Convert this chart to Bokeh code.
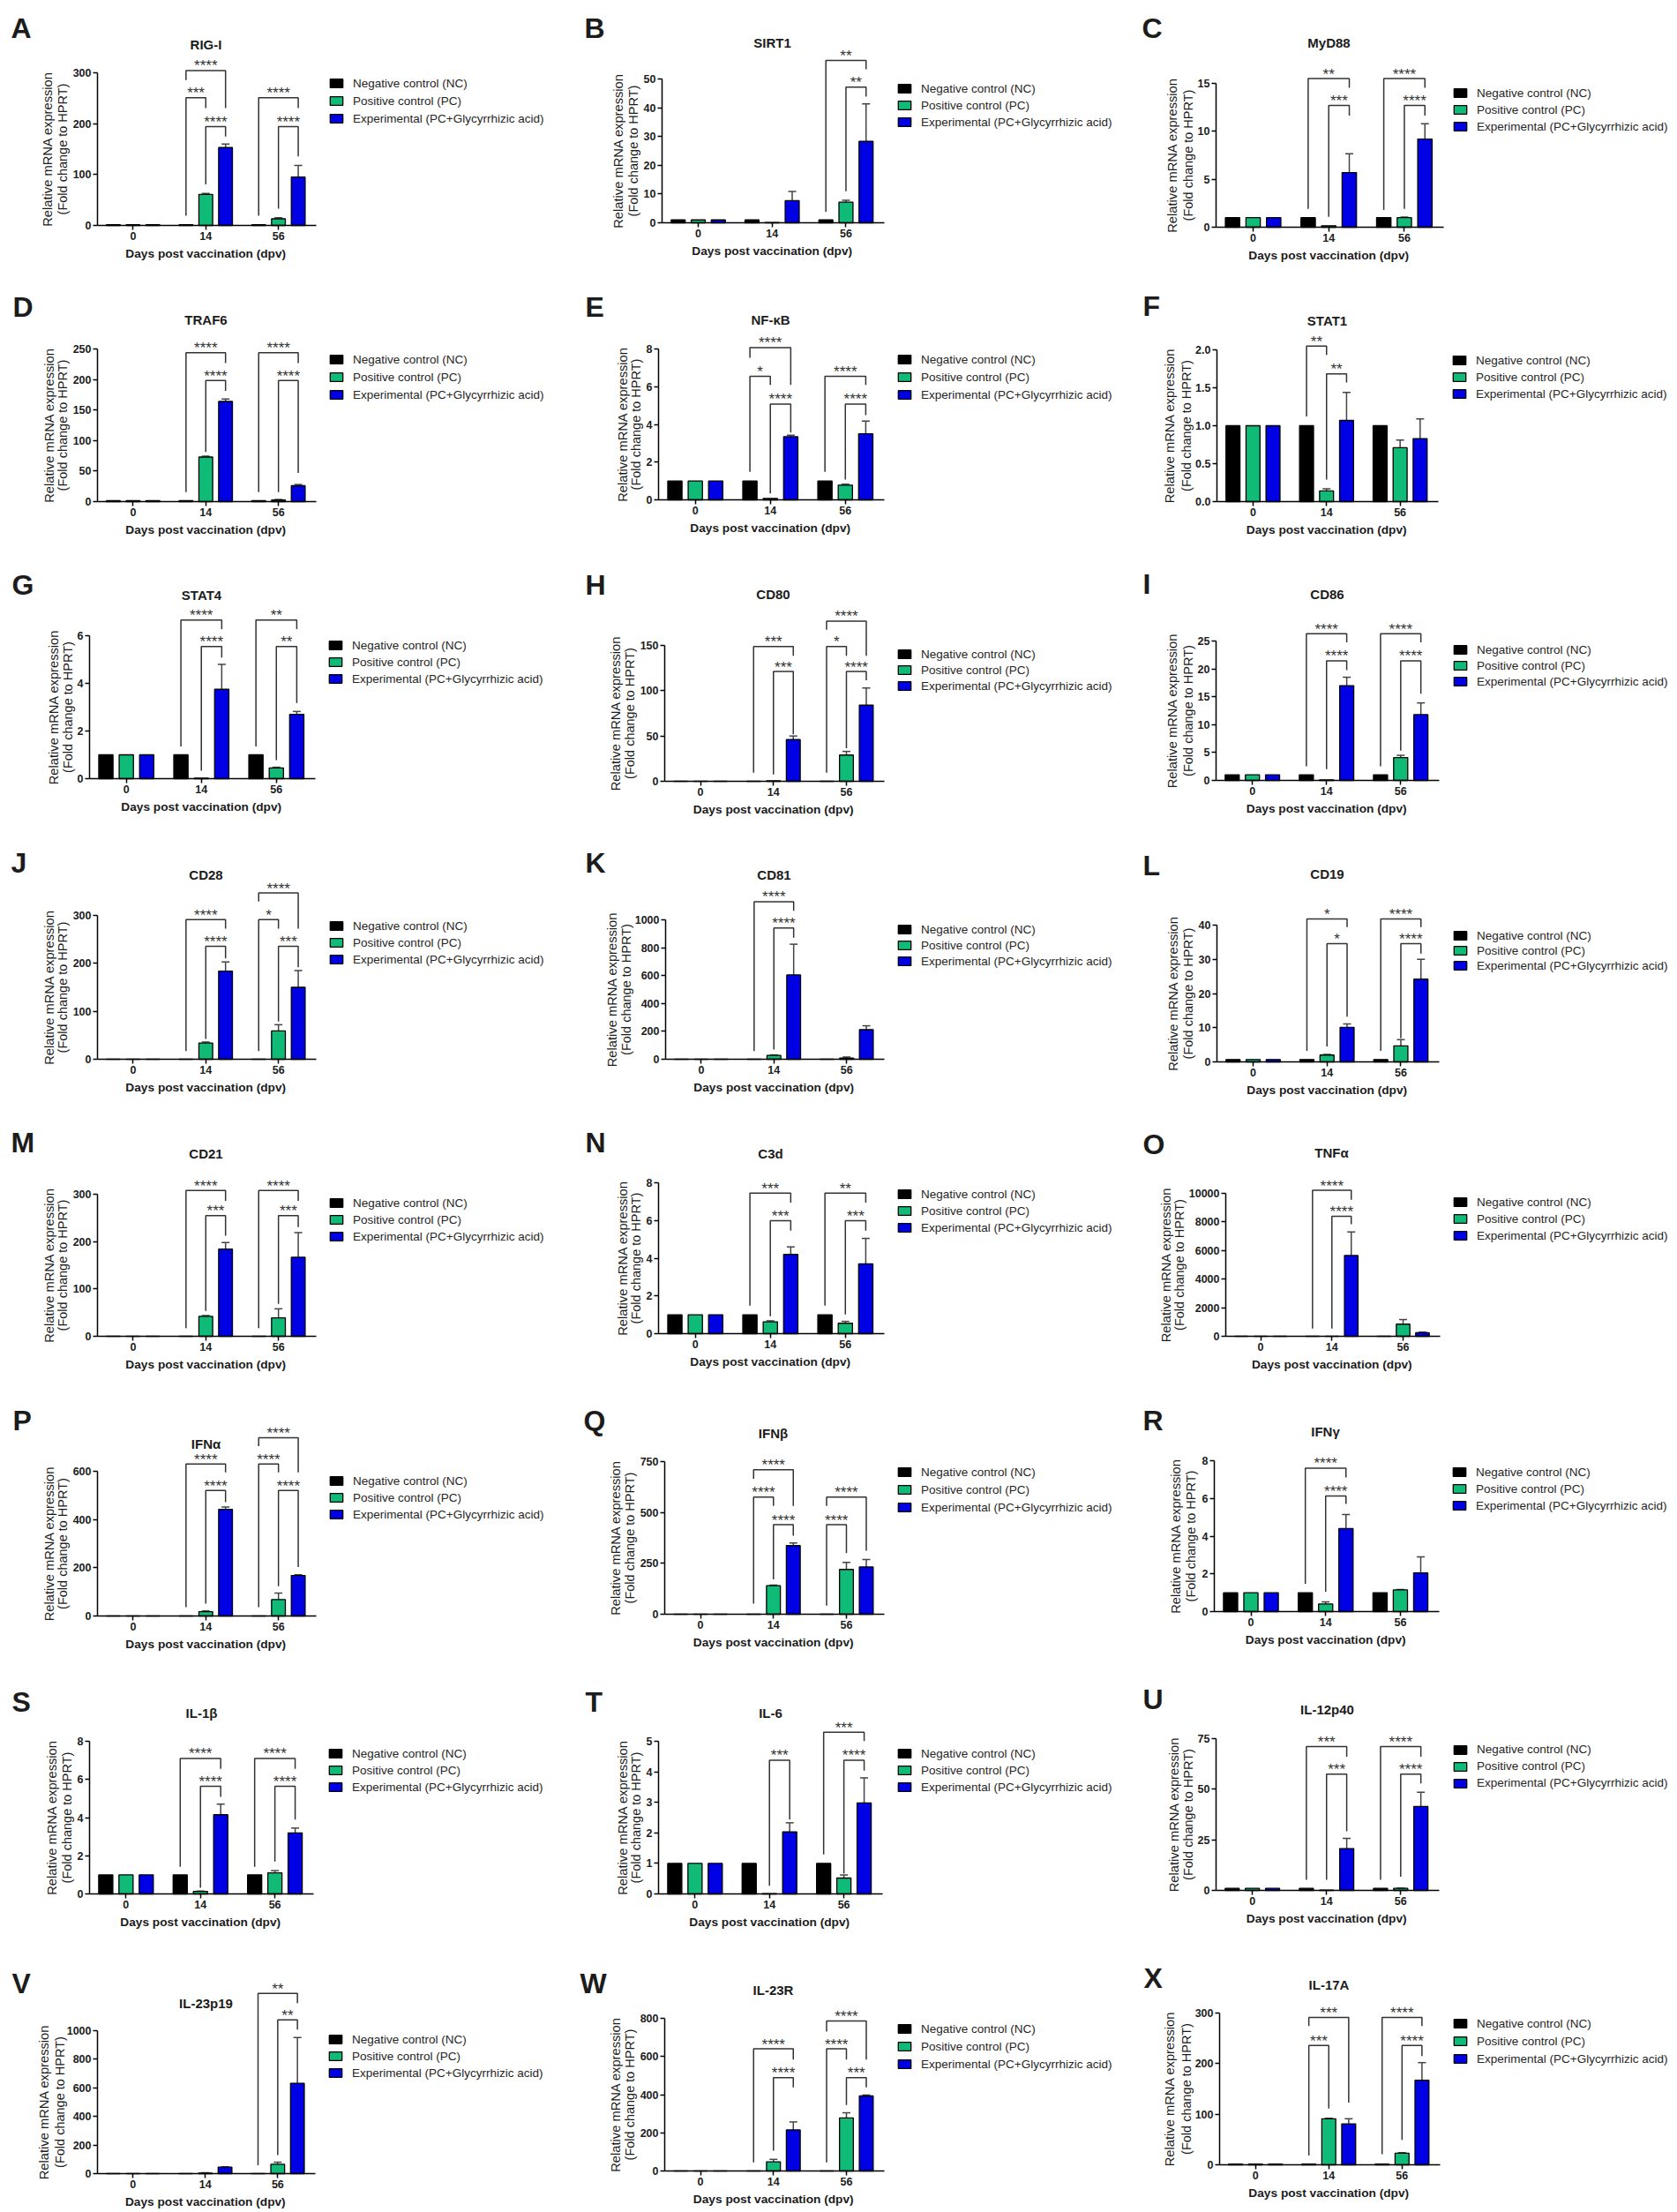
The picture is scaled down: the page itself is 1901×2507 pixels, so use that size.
from bokeh.plotting import figure
from bokeh.layouts import column, row
from bokeh.embed import file_html
from bokeh.resources import INLINE
from bokeh.core.properties import value
from bokeh.models import (ColumnDataSource, FixedTicker, Label, Legend, LegendItem, Range1d,
                          Whisker, TeeHead, NumeralTickFormatter)
import math

# ---------------- data ----------------
GENES = ["RIG-I", "SIRT1", "MyD88", "TRAF6", "NF-κB", "STAT1", "STAT4", "CD80", "CD86", "CD28", "CD81", "CD19",
         "CD21", "C3d", "TNFα", "IFNα", "IFNβ", "IFNγ", "IL-1β", "IL-6", "IL-12p40", "IL-23p19", "IL-23R", "IL-17A"]
PANEL_LETTERS = list("ABCDEFGHIJKLMNOPQRSTUVWX")
DAYS = ["0", "14", "56"]
SERIES_NAMES = ["Negative control (NC)", "Positive control (PC)", "Experimental (PC+Glycyrrhizic acid)"]
X_TITLE = "Days post vaccination (dpv)"
Y_TITLE_1 = "Relative mRNA expression"
Y_TITLE_2 = "(Fold change to HPRT)"

Y_TICKS = [[0,100,200,300],[0,10,20,30,40,50],[0,5,10,15],[0,50,100,150,200,250],[0,2,4,6,8],[0,.5,1,1.5,2],
           [0,2,4,6],[0,50,100,150],[0,5,10,15,20,25],[0,100,200,300],[0,200,400,600,800,1000],[0,10,20,30,40],
           [0,100,200,300],[0,2,4,6,8],[0,2000,4000,6000,8000,10000],[0,200,400,600],[0,250,500,750],[0,2,4,6,8],
           [0,2,4,6,8],[0,1,2,3,4,5],[0,25,50,75],[0,200,400,600,800,1000],[0,200,400,600,800],[0,100,200,300]]

NC = [[1.5,1.5,1.5],[1,1,1],[1,1,1],[1.5,1.5,1.5],[1,1,1],[1,1,1],[1,1,1],[0,0,0],[1,1,1],[0,0,0],[0,0,0],[.7,.7,.7],
      [0,0,0],[1,1,1],[0,0,0],[0,0,0],[0,0,0],[1,1,1],[1,1,1],[1,1,1],[1,1,1],[0,0,0],[0,0,0],[1.5,1.5,1.5]]
PC = [[1.5,61,13],[1,.1,7.2],[1,.15,1],[1.5,73,2.5],[1,.07,.78],[1,.14,.71],[1,.02,.45],[0,.5,29],[1,.1,4.1],
      [0,34,59],[0,28,8],[.7,2,4.7],[0,42,39],[1,.63,.55],[0,0,850],[0,18,68],[0,140,220],[1,.4,1.15],
      [1,.13,1.1],[1,.01,.52],[1,.1,1],[0,3,65],[0,48,278],[1.5,91,23]]
EXP = [[1.5,153,95],[1,7.7,28.3],[1,5.7,9.2],[1.5,164,26],[1,3.35,3.5],[1,1.07,.83],[1,3.75,2.7],[0,46,84],[1,17,11.8],
       [0,184,150],[0,605,212],[.7,10.1,24.2],[0,184,167],[1,4.2,3.7],[0,5650,250],[0,442,168],[0,337,232],[1,4.4,2.05],
       [1,4.15,3.2],[1,2.03,2.98],[1,20.7,41.5],[0,45,632],[0,215,393],[1.5,81,167]]
PC_ERR = [[0,2,2],[0,0,.6],[0,0,.05],[0,1.5,1],[0,0,.05],[0,.03,.1],[0,0,.03],[0,0,4],[0,0,.4],
          [0,2,13],[0,3,8],[0,.2,1.8],[0,2,19],[0,.05,.1],[0,0,320],[0,3,27],[0,3,35],[0,.12,.02],
          [0,.02,.12],[0,0,.1],[0,0,.1],[0,3,15],[0,13,27],[0,1,1]]
EXP_ERR = [[0,7,23],[0,3.2,13],[0,1.95,1.6],[0,4,2],[0,.08,.68],[0,.37,.26],[0,1.05,.12],[0,4,19],[0,1.5,2.1],
           [0,19,35],[0,220,28],[0,1,5.8],[0,14,52],[0,.4,1.35],[0,1650,40],[0,10,3],[0,13,37],[0,.75,.85],
           [0,.55,.25],[0,.3,.82],[0,5,7],[0,3,320],[0,42,5],[0,10,35]]

# significance brackets: (day index, series a, series b, top, foot a, foot b, stars) heights are fractions of the y axis length
BRACKETS = [
 [(1,0,2,1.015,.952,.769,"****"),(1,0,1,.837,.063,.769,"***"),(1,1,2,.648,.269,.583,"****"),(2,0,2,.837,.063,.769,"****"),(2,1,2,.648,.11,.452,"****")],
 [(2,0,2,1.129,.076,1.067,"**"),(2,1,2,.943,.219,.877,"**")],
 [(1,0,2,1.033,.127,.969,"**"),(1,1,2,.846,.072,.776,"***"),(2,0,2,1.033,.119,.969,"****"),(2,1,2,.846,.127,.776,"****")],
 [(1,0,2,.975,.062,.908,"****"),(1,1,2,.794,.325,.725,"****"),(2,0,2,.975,.062,.908,"****"),(2,1,2,.794,.062,.188,"****")],
 [(1,0,2,1.009,.942,.762,"****"),(1,0,1,.818,.185,.762,"*"),(1,1,2,.635,.042,.446,"****"),(2,0,2,.818,.185,.762,"****"),(2,1,2,.635,.134,.561,"****")],
 [(1,0,1,1.024,.561,.967,"**"),(1,1,2,.841,.146,.785,"**")],
 [(1,0,2,1.109,.226,1.046,"****"),(1,1,2,.925,.056,.847,"****"),(2,0,2,1.109,.226,1.046,"**"),(2,1,2,.925,.129,.53,"**")],
 [(1,0,2,.992,.064,.923,"***"),(1,1,2,.808,.051,.346,"***"),(2,0,2,1.179,1.115,.923,"****"),(2,0,1,.992,.064,.923,"*"),(2,1,2,.808,.244,.744,"****")],
 [(1,0,2,1.053,.102,.991,"****"),(1,1,2,.858,.08,.791,"****"),(2,0,2,1.053,.102,.991,"****"),(2,1,2,.858,.213,.622,"****")],
 [(1,0,2,.971,.056,.908,"****"),(1,1,2,.786,.141,.701,"****"),(2,0,2,1.156,1.097,.908,"****"),(2,0,1,.971,.056,.908,"*"),(2,1,2,.786,.263,.64,"***")],
 [(1,0,2,1.13,.058,1.065,"****"),(1,1,2,.942,.07,.872,"****")],
 [(1,0,2,1.045,.081,.986,"*"),(1,1,2,.864,.113,.33,"*"),(2,0,2,1.045,.081,.986,"****"),(2,1,2,.864,.172,.792,"****")],
 [(1,0,2,1.027,.057,.953,"****"),(1,1,2,.85,.179,.708,"***"),(2,0,2,1.027,.057,.953,"****"),(2,1,2,.85,.229,.769,"***")],
 [(1,0,2,.931,.185,.868,"***"),(1,1,2,.748,.116,.683,"***"),(2,0,2,.931,.185,.868,"**"),(2,1,2,.748,.127,.683,"***")],
 [(1,0,2,1.021,.054,.956,"****"),(1,1,2,.84,.054,.784,"****")],
 [(1,0,2,1.051,.061,.993,"****"),(1,1,2,.867,.085,.787,"****"),(2,0,2,1.232,1.174,.993,"****"),(2,0,1,1.051,.061,.993,"****"),(2,1,2,.867,.206,.339,"****")],
 [(1,0,2,.947,.888,.709,"****"),(1,0,1,.767,.069,.709,"****"),(1,1,2,.586,.229,.515,"****"),(2,0,2,.767,.709,.416,"****"),(2,0,1,.586,.057,.40,"****")],
 [(1,0,2,.951,.184,.889,"****"),(1,1,2,.766,.131,.713,"****")],
 [(1,0,2,.888,.178,.819,"****"),(1,1,2,.705,.041,.636,"****"),(2,0,2,.888,.178,.819,"****"),(2,1,2,.705,.213,.487,"****")],
 [(1,1,2,.876,.053,.487,"***"),(2,0,2,1.059,.259,1.002,"***"),(2,1,2,.876,.133,.808,"****")],
 [(1,0,2,.947,.07,.881,"***"),(1,1,2,.766,.07,.389,"***"),(2,0,2,.947,.07,.881,"****"),(2,1,2,.766,.09,.705,"****")],
 [(2,0,2,1.261,.058,1.193,"**"),(2,1,2,1.076,.13,1.008,"**")],
 [(1,0,2,.8,.056,.73,"****"),(1,1,2,.611,.133,.547,"****"),(2,0,2,.983,.913,.73,"****"),(2,0,1,.8,.056,.73,"****"),(2,1,2,.611,.432,.547,"***")],
 [(1,0,2,.971,.914,.41,"***"),(1,0,1,.787,.061,.37,"***"),(2,0,2,.971,.07,.914,"****"),(2,1,2,.787,.164,.717,"****")],
]

# ---------------- layout (image pixels) ----------------
COL_EDGES = [0, 640, 1270, 1899]
ROW_EDGES = [0, 316, 632, 948, 1264, 1578, 1896, 2210, 2505]
# axis left, axis right, y of top tick, y of zero
AXIS_BOX = [(110,358,82,255),(750,1002,89,252),(1378,1636,94,257),
            (110,358,395,568),(746,1002,395,566),(1379,1630,396,568),
            (101,357,720,882),(753,1002,731,885),(1378,1631,726,884),
            (110,358,1037,1200),(754,1002,1042,1200),(1379,1631,1048,1203),
            (110,358,1353,1514),(746,1002,1340,1511),(1389,1632,1352,1514),
            (110,358,1667,1831),(753,1002,1656,1829),(1376,1631,1655,1826),
            (101,355,1973,2146),(746,1000,1973,2146),(1378,1631,1970,2142),
            (110,357,2301,2463),(753,1002,2287,2460),(1382,1632,2281,2453)]
TITLE_POS = [(233,50),(875,48),(1506,48),(233,362),(873,362),(1504,363),(228,674),(876,673),(1504,673),
             (233,991),(877,991),(1504,990),(233,1307),(873,1307),(1509,1306),(233,1636),(876,1624),(1502,1622),
             (228,1941),(873,1941),(1504,1937),(233,2270),(876,2255),(1506,2249)]
LEGEND_POS = [(372,94,20),(1016,101,18.5),(1646,105,19),(372,407,20),(1016,407,20),(1645,407,19.5),
              (371,731,19),(1016,741,18),(1646,736,18),(372,1049,19),(1016,1053,18),(1646,1059,17.5),
              (372,1364,18.5),(1016,1352,19.5),(1646,1363,18.5),(372,1678,19),(1016,1668,20),(1645,1667,19.5),
              (371,1986,19.5),(1016,1986,19.5),(1646,1982,19.3),(371,2312,18.5),(1016,2299,20),(1646,2293,20)]
YLABEL_OFF = [(-57,-40),(-50,-33),(-50,-32),(-55,-40),(-41,-26),(-54,-35),(-41,-25),(-56,-40),(-50,-32),
              (-55,-40),(-61,-45),(-50,-33),(-55,-40),(-41,-26),(-68,-53),(-55,-40),(-56,-40),(-44,-27),
              (-43,-26),(-41,-26),(-48,-32),(-61,-43),(-56,-40),(-57,-38)]
LETTER_POS = [(12,31),(662,31),(1294,31),(14,347),(663,347),(1295,346),(13,662),(663,662),(1295,661),
              (12,977),(663,977),(1295,980),(12,1294),(663,1294),(1295,1296),(14,1609),(661,1609),(1295,1609),
              (13,1928),(663,1928),(1295,1925),(13,2247),(657,2247),(1296,2241)]

COLORS = ["#000000", "#10BB78", "#0000E4"]
INK = "#1c1c1c"
LINE = "#333333"
FONT = "Liberation Sans"
OFFSETS = [-0.272, 0, 0.272]
BAR_W = 0.19
X_LO, X_HI = -0.49, 2.52
LEGEND_ROW = 15  # height of one legend row


def make_panel(i):
    r, c = i // 3, i % 3
    ax0, ax1, ytop, y0 = AXIS_BOX[i]
    cl, cr = COL_EDGES[c], COL_EDGES[c + 1]
    ct, cb = ROW_EDGES[r], ROW_EDGES[r + 1]
    ymax = Y_TICKS[i][-1]
    upp = ymax / (y0 - ytop)
    upx = (X_HI - X_LO) / (ax1 - ax0)
    p = figure(width=cr - cl, height=cb - ct, output_backend="svg", toolbar_location=None,
               x_range=Range1d(X_LO - (ax0 - cl) * upx, X_HI + (cr - ax1) * upx),
               y_range=Range1d(-(cb - y0) * upp, (y0 - ct) * upp),
               min_border_left=0, min_border_right=0, min_border_top=0, min_border_bottom=0)
    p.grid.visible = False
    p.outline_line_color = None

    rends = []
    for s, vals in enumerate((NC[i], PC[i], EXP[i])):
        xs = [g + OFFSETS[s] for g in range(3)]
        rends.append(p.vbar(x=xs, top=vals, bottom=0, width=BAR_W, fill_color=COLORS[s],
                            line_color="#000000", line_width=1.3))
    for s, vals, errs in ((1, PC[i], PC_ERR[i]), (2, EXP[i], EXP_ERR[i])):
        keep = [g for g in range(3) if errs[g] > 0]
        if keep:
            src = ColumnDataSource(dict(x=[g + OFFSETS[s] for g in keep], base=[vals[g] for g in keep],
                                        up=[vals[g] + errs[g] for g in keep]))
            p.add_layout(Whisker(source=src, base="x", lower="base", upper="up", dimension="height",
                                 line_color="#444444", line_width=1.5, lower_head=None,
                                 upper_head=TeeHead(size=9, line_color="#444444", line_width=1.5)))

    xs, ys, tx, ty, tt = [], [], [], [], []
    for g, a, b, top, fa, fb, stars in BRACKETS[i]:
        xa, xb = g + OFFSETS[a], g + OFFSETS[b]
        xs.append([xa, xa, xb, xb])
        ys.append([fa * ymax, top * ymax, top * ymax, fb * ymax])
        tx.append((xa + xb) / 2); ty.append(top * ymax); tt.append(stars)
    if xs:
        p.multi_line(xs, ys, line_color=LINE, line_width=1.5)
        p.text(tx, ty, text=tt, text_font=value(FONT), text_font_size="17px", text_color="#333333",
               text_align="center", text_baseline="alphabetic", y_offset=-5)

    p.yaxis.ticker = FixedTicker(ticks=Y_TICKS[i])
    p.yaxis.bounds = (0, ymax)
    p.yaxis.fixed_location = X_LO
    p.yaxis.formatter = NumeralTickFormatter(format="0.0" if i == 5 else "0")
    p.xaxis.ticker = FixedTicker(ticks=[0, 1, 2])
    p.xaxis.bounds = (X_LO, X_HI)
    p.xaxis.fixed_location = 0
    p.xaxis.major_label_overrides = {g: DAYS[g] for g in range(3)}
    for ax in (p.xaxis, p.yaxis):
        ax.axis_line_color = "#000000"; ax.axis_line_width = 1.5
        ax.major_tick_line_color = "#000000"; ax.major_tick_line_width = 1.5
        ax.major_tick_in = 0; ax.major_tick_out = 5
        ax.minor_tick_line_color = None
        ax.major_label_text_font = FONT; ax.major_label_text_font_style = "bold"
        ax.major_label_text_font_size = "12.5px"; ax.major_label_text_color = INK
        ax.major_label_standoff = 2

    ox, oy = ax0 - cl, cb - y0  # frame position of the axis origin

    def lab(x, y, text, size, bold=False, angle=0.0, align="center", base="middle"):
        p.add_layout(Label(x=x + ox, y=y + oy, x_units="screen", y_units="screen", text=text, text_font=FONT,
                           text_font_size=size, text_font_style="bold" if bold else "normal",
                           text_color=INK, angle=angle, text_align=align, text_baseline=base))

    tx0, ty0 = TITLE_POS[i]
    lab(tx0 - ax0, y0 - ty0, GENES[i], "15px", True)
    lab((ax1 - ax0) * (1 - X_LO) / (X_HI - X_LO), -32, X_TITLE, "13.7px", True)
    mid = (y0 - ytop) / 2
    lab(YLABEL_OFF[i][0], mid, Y_TITLE_1, "14.7px", False, math.pi / 2)
    lab(YLABEL_OFF[i][1], mid, Y_TITLE_2, "14.5px", False, math.pi / 2)
    lx, ly = LETTER_POS[i]
    lab(lx - ax0, y0 - ly, PANEL_LETTERS[i], "32px", True, 0.0, "left", "alphabetic")

    sx, sy, gap = LEGEND_POS[i]
    leg = Legend(items=[LegendItem(label=value(SERIES_NAMES[s]), renderers=[rends[s]]) for s in range(3)],
                 location=(sx - ax0 + ox, y0 - (sy + 2 * gap + LEGEND_ROW / 2) + oy), orientation="vertical",
                 padding=0, margin=0, spacing=int(round(gap - LEGEND_ROW)), glyph_width=18, glyph_height=12,
                 label_height=12, label_standoff=10, label_text_font=FONT, label_text_font_size="13.5px",
                 label_text_color="#262626", border_line_color=None, background_fill_alpha=0)
    p.add_layout(leg)
    return p


grid = column(*[row(*[make_panel(3 * r + c) for c in range(3)]) for r in range(8)])
open("out.html", "w").write(file_html(grid, INLINE))
